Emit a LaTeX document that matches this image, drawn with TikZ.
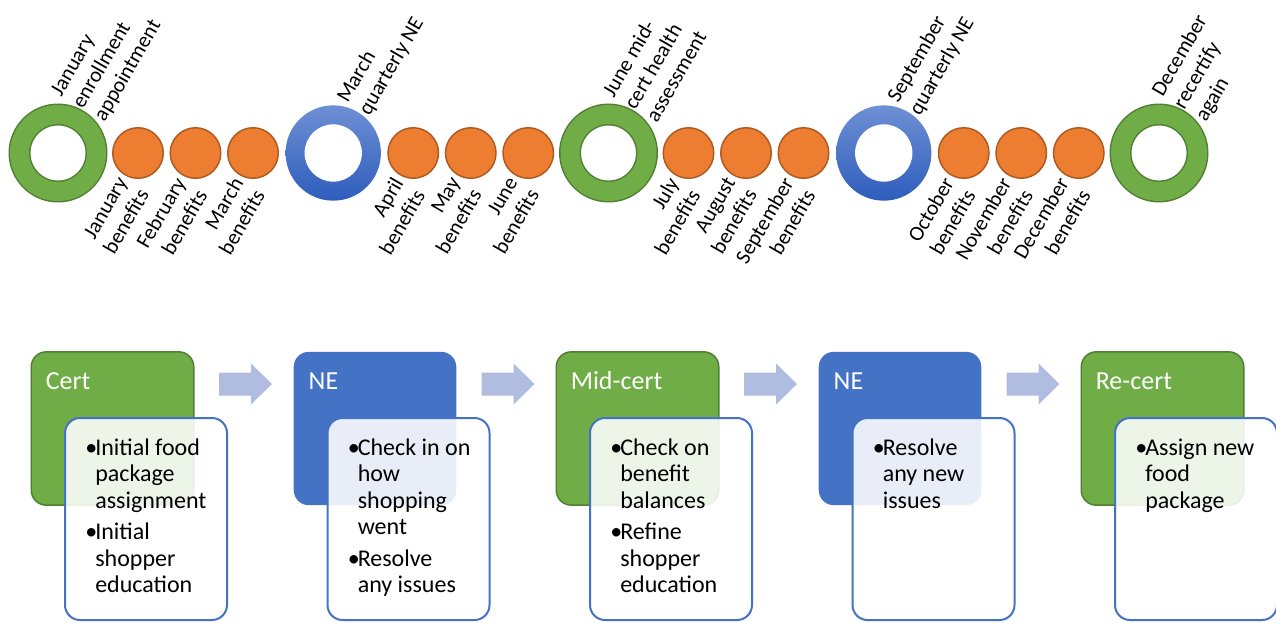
\documentclass[tikz,border=0pt]{standalone}
\usepackage{fontspec}
\setmainfont{Carlito}
\usetikzlibrary{calc}

\definecolor{cgreen}{HTML}{70AD47}
\definecolor{cgreenline}{HTML}{507E32}
\definecolor{cblue}{HTML}{4472C4}
\definecolor{cbluetop}{HTML}{6E8FD4}
\definecolor{cbluebot}{HTML}{2E5DBC}
\definecolor{corange}{HTML}{ED7D31}
\definecolor{corangeline}{HTML}{AE5A21}
\definecolor{carrow}{HTML}{B0BDE1}
\definecolor{cframe}{HTML}{4472C4}

% one bulleted item, split into the lines it wraps to
\newcommand{\bulletrow}[1]{\makebox[7.5pt][l]{•} & #1}

\begin{document}
\begin{tikzpicture}[x=0.75pt,y=-0.75pt,
  month/.style={circle, inner sep=0pt, minimum size=37.9pt, fill=corange, draw=corangeline, line width=1.1pt},
  certring/.style={circle, inner sep=0pt, minimum size=57.75pt, draw=cgreenline, line width=1.1pt, double=cgreen, double distance=14.25pt},
  nering/.style={circle, inner sep=0pt, minimum size=71.5pt, top color=cbluetop, bottom color=cbluebot, draw=none},
  nehole/.style={circle, inner sep=0pt, minimum size=43pt, fill=white, draw=none},
  eventlabel/.style={rotate=60, anchor=west, align=left, inner sep=0pt, font=\fontsize{16pt}{18.75pt}\selectfont},
  benefitlabel/.style={rotate=60, anchor=north east, align=right, inner sep=0pt, font=\fontsize{16pt}{18.75pt}\selectfont},
  greenstage/.style={rounded corners=11.25pt, minimum width=121.9pt, minimum height=115pt, inner sep=0pt, fill=cgreen, draw=cgreenline, line width=1.1pt},
  bluestage/.style={rounded corners=11.25pt, minimum width=121.9pt, minimum height=115pt, inner sep=0pt, fill=cblue, draw=none},
  detail/.style={rounded corners=11.25pt, minimum width=121.5pt, minimum height=151.5pt, inner sep=0pt, fill=white, fill opacity=0.88, draw=cframe, line width=1.5pt},
  stagetitle/.style={anchor=base west, inner sep=0pt, text=white, font=\fontsize{19.5pt}{23pt}\selectfont},
  stagetext/.style={anchor=base west, inner sep=0pt, font=\fontsize{18pt}{19.9pt}\selectfont},
  blockarrow/.style={fill=carrow, draw=none}
]
\useasboundingbox (0,0) rectangle (1276,622);

% ---------- year timeline ----------
\node[certring] (r1) at (58,153) {};
\node[nering] (r2) at (333.25,153) {};
\node[nehole] (r2h) at (r2.center) {};
\node[certring] (r3) at (608.5,153) {};
\node[nering] (r4) at (883.75,153) {};
\node[nehole] (r4h) at (r4.center) {};
\node[certring] (r5) at (1159,153) {};

\foreach \i/\x/\name in {1/138/January, 2/195.5/February, 3/253/March,
    4/413.25/April, 5/470.75/May, 6/528.25/June,
    7/688.5/July, 8/746/August, 9/803.5/September,
    10/963.75/October, 11/1021.25/November, 12/1078.75/December}{
  \node[month] (m\i) at (\x,153) {};
  \node[benefitlabel] (b\i) at ($(m\i.center)+(-22,22)$) {\name\\benefits};
}

\node[eventlabel] (e1) at ($(r1.center)+(20.5,-45.5)$) {January\\enrollment\\appointment};
\node[eventlabel] (e2) at ($(r2.center)+(20.5,-45.5)$) {March\\quarterly NE};
\node[eventlabel] (e3) at ($(r3.center)+(20.5,-45.5)$) {June mid-\\cert health\\assessment};
\node[eventlabel] (e4) at ($(r4.center)+(20.5,-45.5)$) {September\\quarterly NE};
\node[eventlabel] (e5) at ($(r5.center)+(20.5,-45.5)$) {December\\recertify\\again};

% ---------- visit process ----------
\node[greenstage] (s1) at (112.5,428.5) {};
\node[bluestage]  (s2) at (375,428.5) {};
\node[greenstage] (s3) at (637.5,428.5) {};
\node[bluestage]  (s4) at (900,428.5) {};
\node[greenstage] (s5) at (1162.5,428.5) {};

\node[stagetitle] (h1) at ($(s1.north west)+(15,38)$) {Cert};
\node[stagetitle] (h2) at ($(s2.north west)+(15,38)$) {NE};
\node[stagetitle] (h3) at ($(s3.north west)+(15,38)$) {Mid-cert};
\node[stagetitle] (h4) at ($(s4.north west)+(15,38)$) {NE};
\node[stagetitle] (h5) at ($(s5.north west)+(15,38)$) {Re-cert};

\node[detail] (d1) at (146,519) {};
\node[detail] (d2) at (408.5,519) {};
\node[detail] (d3) at (671,519) {};
\node[detail] (d4) at (933.5,519) {};
\node[detail] (d5) at (1196,519) {};

\node[stagetext] (x1) at ($(d1.north west)+(21,38)$) {\begin{tabular}[t]{@{}l@{}l@{}}
  \bulletrow{Initial food}\\ & package\\ & assignment\\[3.75pt]
  \bulletrow{Initial}\\ & shopper\\ & education
\end{tabular}};
\node[stagetext] (x2) at ($(d2.north west)+(21,38)$) {\begin{tabular}[t]{@{}l@{}l@{}}
  \bulletrow{Check in on}\\ & how\\ & shopping\\ & went\\[3.75pt]
  \bulletrow{Resolve}\\ & any issues
\end{tabular}};
\node[stagetext] (x3) at ($(d3.north west)+(21,38)$) {\begin{tabular}[t]{@{}l@{}l@{}}
  \bulletrow{Check on}\\ & benefit\\ & balances\\[3.75pt]
  \bulletrow{Refine}\\ & shopper\\ & education
\end{tabular}};
\node[stagetext] (x4) at ($(d4.north west)+(21,38)$) {\begin{tabular}[t]{@{}l@{}l@{}}
  \bulletrow{Resolve}\\ & any new\\ & issues
\end{tabular}};
\node[stagetext] (x5) at ($(d5.north west)+(21,38)$) {\begin{tabular}[t]{@{}l@{}l@{}}
  \bulletrow{Assign new}\\ & food\\ & package
\end{tabular}};

% block arrows between the stages
\foreach \k in {1,...,4}{
  \coordinate (a\k) at (219+262.5*\k-262.5,384);
  \path[blockarrow] (a\k) ++(0,-11.5) -- ++(32,0) -- ++(0,-9) -- ++(21,20.5)
    -- ++(-21,20.5) -- ++(0,-9) -- ++(-32,0) -- cycle;
}
\end{tikzpicture}
\end{document}
